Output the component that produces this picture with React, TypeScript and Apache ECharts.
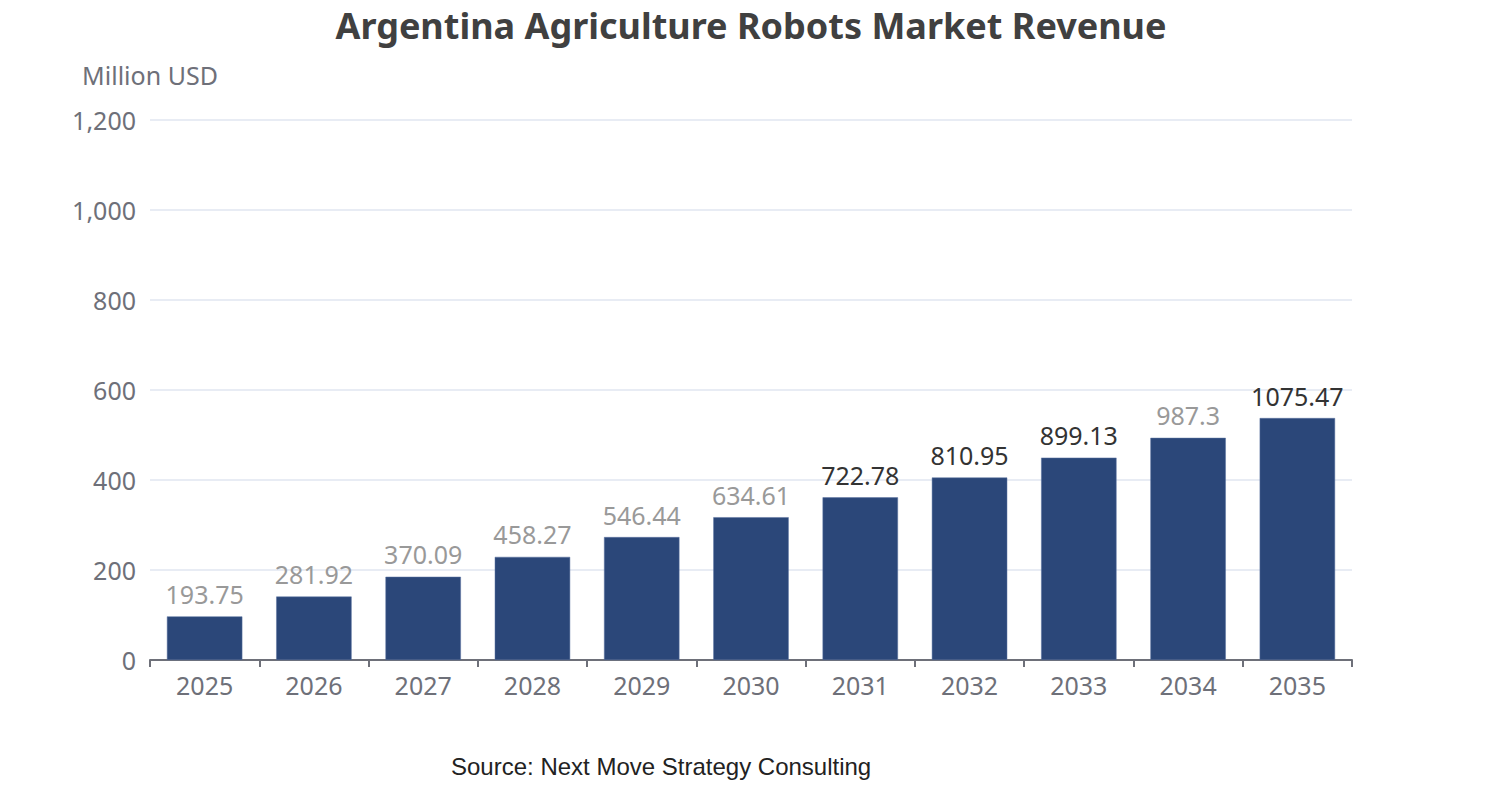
import React, { useEffect, useRef } from "react";
import * as echarts from "echarts";

const years = ["2025", "2026", "2027", "2028", "2029", "2030", "2031", "2032", "2033", "2034", "2035"];
// Values shown in the labels
const labelValues = [193.75, 281.92, 370.09, 458.27, 546.44, 634.61, 722.78, 810.95, 899.13, 987.3, 1075.47];
// Bar heights as read against the y axis in the picture
const barHeights = [96.9, 141.0, 185.0, 229.1, 273.2, 317.3, 361.4, 405.5, 449.6, 493.7, 537.7];
// Label colour variant per bar (true = dark)
const darkLabel = [false, false, false, false, false, false, true, true, true, false, true];
const yTicks = [0, 200, 400, 600, 800, 1000, 1200];

export default function App() {
  const ref = useRef<HTMLDivElement>(null);
  useEffect(() => {
    document.body.style.margin = "0";
    const chart = echarts.init(ref.current!, null, { renderer: "svg" });
    const font = "'Noto Sans', 'Open Sans', sans-serif";
    chart.setOption({
      animation: false,
      title: {
        text: "Argentina Agriculture Robots Market Revenue",
        left: "center",
        top: 0,
        textStyle: { fontFamily: font, fontSize: 36, fontWeight: "bold", color: "#404040", lineHeight: 40 },
      },
      graphic: [
        {
          type: "text",
          left: 451,
          top: 754,
          style: { text: "Source: Next Move Strategy Consulting", fontFamily: "'Liberation Sans', Arial, sans-serif", fontSize: 24, fill: "#222" },
        },
      ],
      grid: { left: 150, right: 150, top: 120, bottom: 140 },
      xAxis: {
        type: "category",
        data: years,
        axisLine: { lineStyle: { color: "#6e7079", width: 2 } },
        axisTick: { show: true, length: 7, lineStyle: { color: "#6e7079", width: 2 } },
        axisLabel: { fontFamily: font, fontSize: 25, color: "#6e7079", margin: 12 },
      },
      yAxis: {
        type: "value",
        min: yTicks[0],
        max: yTicks[yTicks.length - 1],
        interval: 200,
        name: "Million USD",
        nameLocation: "end",
        nameGap: 33,
        nameTextStyle: { fontFamily: font, fontSize: 25, color: "#6e7079", align: "center" },
        axisLine: { show: false },
        axisTick: { show: false },
        axisLabel: {
          fontFamily: font,
          fontSize: 25,
          color: "#6e7079",
          margin: 14,
          formatter: (v: number) => v.toLocaleString("en-US"),
        },
        splitLine: { lineStyle: { color: "#e0e6f1", width: 1.5 } },
      },
      series: [
        {
          type: "bar",
          barWidth: "69%",
          data: barHeights.map((h, i) => ({
            value: h,
            label: {
              show: true,
              position: "top",
              distance: 10,
              formatter: String(labelValues[i]),
              fontFamily: font,
              fontSize: 25,
              color: darkLabel[i] ? "#333333" : "#999999",
            },
          })),
          itemStyle: { color: "#2b4779", borderColor: "#5a72a0", borderWidth: 0.5 },
        },
      ],
    });
    return () => chart.dispose();
  }, []);
  return <div ref={ref} style={{ width: 1502, height: 800 }} />;
}
